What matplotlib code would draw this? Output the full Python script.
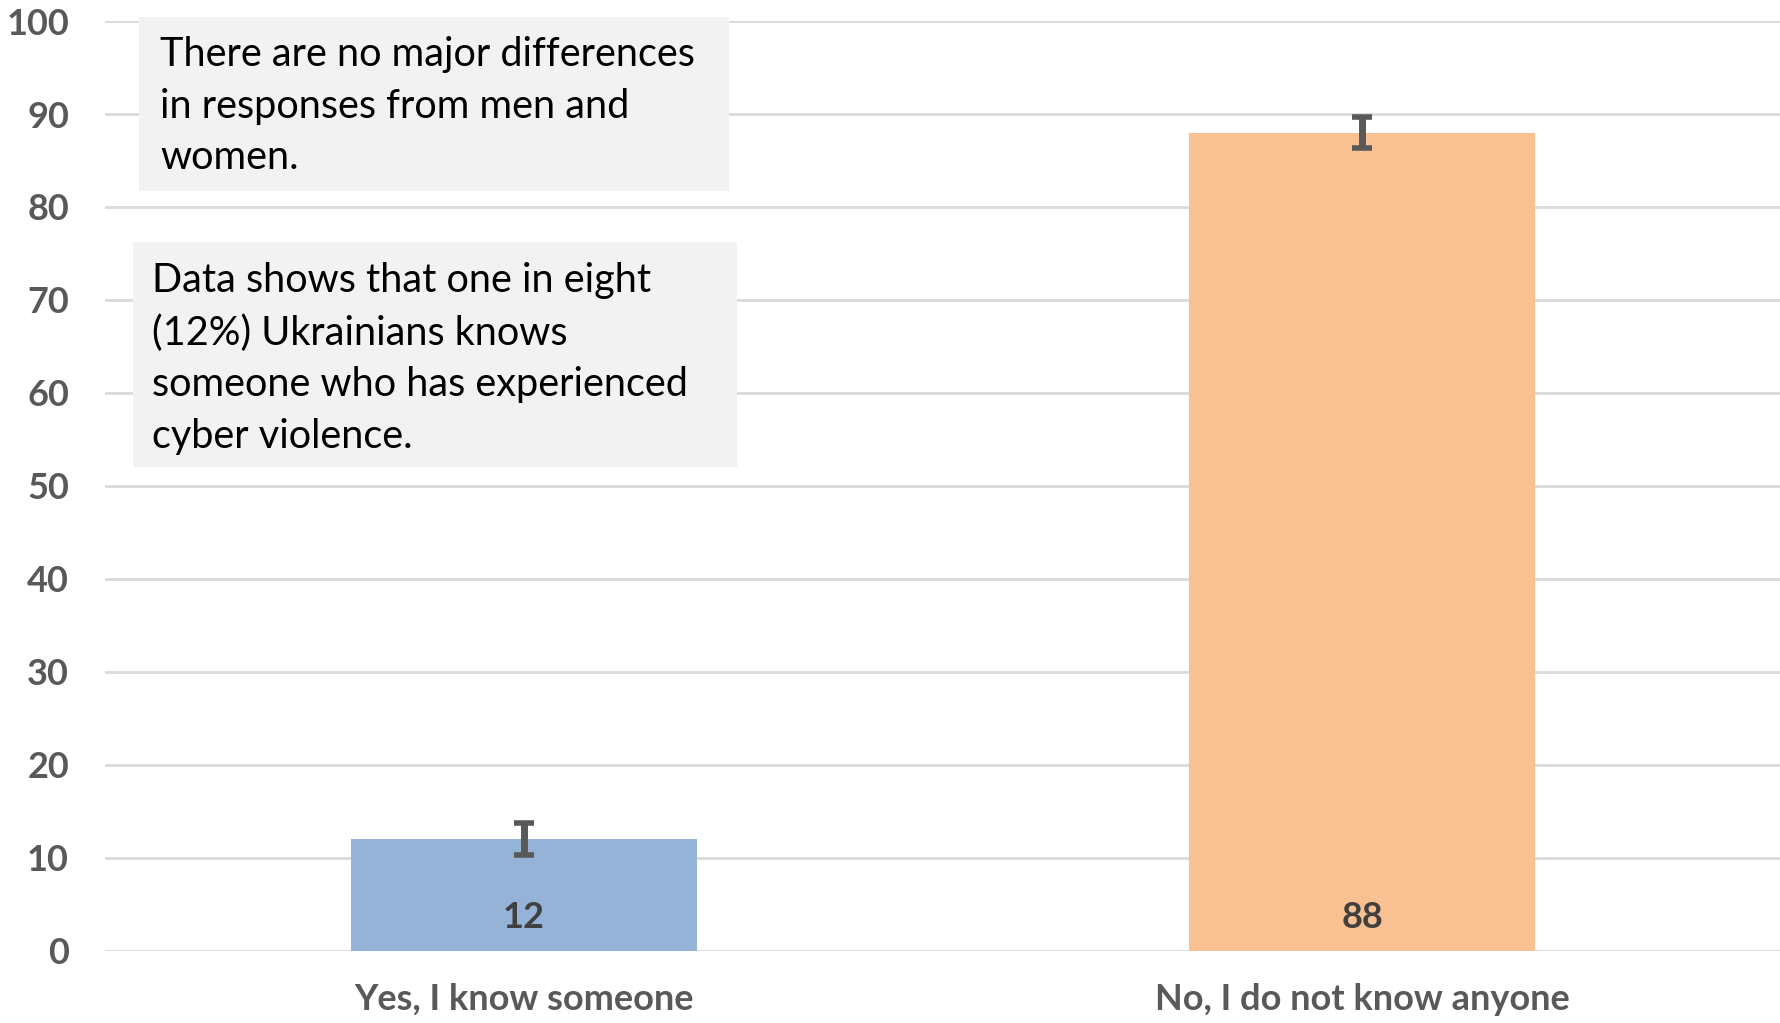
import matplotlib.pyplot as plt
from matplotlib.patches import Rectangle

# Data
categories = ["Yes, I know someone", "No, I do not know anyone"]
values = [12, 88]
errors = [1.7, 1.7]
bar_colors = ["#95B3D7", "#F9C091"]
y_ticks = list(range(0, 101, 10))

note_top = "There are no major differences\nin responses from men and\nwomen."
note_bottom = ("Data shows that one in eight\n(12%) Ukrainians knows\n"
               "someone who has experienced\ncyber violence.")

plt.rcParams['font.family'] = ['Lato', 'DejaVu Sans']

fig = plt.figure(figsize=(17.81, 10.23), dpi=100)
ax = fig.add_axes([0.059, 0.0707, 0.941, 0.9087])

x = list(range(len(categories)))
ax.bar(x, values, width=0.413, color=bar_colors, zorder=2)
ax.errorbar(x, values, yerr=errors, fmt='none', ecolor='#595959',
            elinewidth=5, capsize=7.2, capthick=4, zorder=3)

# value labels inside the base of each bar
for xi, v in zip(x, values):
    ax.annotate(str(v), (xi, 0), xytext=(0, 24), textcoords='offset points',
                ha='center', va='center', fontsize=26, fontweight='bold',
                color='#404040', zorder=4)

ax.set_xlim(-0.5, 1.5)
ax.set_ylim(0, 100)
ax.set_yticks(y_ticks)
ax.set_xticks(x)
ax.set_xticklabels(categories)
ax.yaxis.grid(True, color='#D9D9D9', linewidth=2, zorder=0)
ax.set_axisbelow(True)
for s in ax.spines.values():
    s.set_visible(False)
ax.tick_params(axis='both', length=0, labelsize=26, labelcolor='#595959')
ax.tick_params(axis='y', pad=26)
ax.tick_params(axis='x', pad=23)
for lbl in ax.get_xticklabels() + ax.get_yticklabels():
    lbl.set_fontweight('bold')

# annotation boxes (figure pixel fractions)
W, H = 1781, 1023
boxes = [
    (139, 17, 729, 191, 160, 36, note_top),
    (133, 242, 737, 467, 152, 262, note_bottom),
]
for x0, y0, x1, y1, tx, ty, txt in boxes:
    fig.add_artist(Rectangle((x0 / W, 1 - y1 / H), (x1 - x0) / W, (y1 - y0) / H,
                             transform=fig.transFigure, facecolor='#F2F2F2',
                             edgecolor='none', zorder=5))
    fig.text(tx / W, 1 - ty / H, txt, ha='left', va='top', fontsize=28.5,
             color='black', linespacing=1.49, zorder=6)

fig.savefig('out.png', dpi=100)
